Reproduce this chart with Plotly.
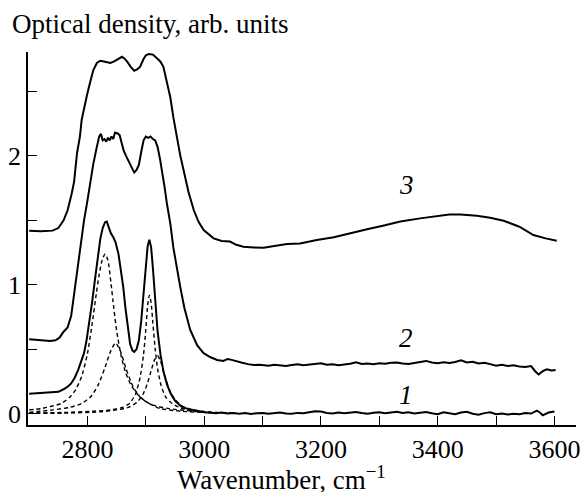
import plotly.graph_objects as go

# ---------------- data ----------------
# Curve 1 (solid, with two sharp peaks)
x1 = [2700, 2715, 2730, 2740, 2750, 2759, 2766, 2772, 2778, 2784, 2789, 2794, 2798, 2803, 2808, 2813,
      2818, 2822, 2826, 2830, 2833, 2836, 2840, 2844, 2848, 2853, 2857, 2861, 2865, 2869, 2873, 2877,
      2880, 2884, 2888, 2892, 2896, 2900, 2903, 2906, 2909, 2912, 2916, 2920, 2925, 2930, 2936, 2942,
      2950, 2960, 2970, 2982, 2990,
      3000, 3010, 3020, 3030, 3040, 3050, 3060, 3070, 3080, 3090, 3100, 3110, 3120, 3130, 3140, 3150,
      3160, 3170, 3180, 3190, 3200, 3210, 3220, 3230, 3240, 3250, 3260, 3270, 3280, 3290, 3300, 3310,
      3320, 3330, 3340, 3350, 3360, 3370, 3380, 3390, 3400, 3410, 3420, 3430, 3440, 3450, 3460, 3470,
      3480, 3490, 3500, 3510, 3520, 3530, 3540, 3550, 3560, 3570, 3575, 3580, 3590, 3600]
y1 = [0.155, 0.158, 0.163, 0.166, 0.170, 0.190, 0.210, 0.235, 0.280, 0.340, 0.400, 0.470, 0.560, 0.700, 0.870, 1.050,
      1.240, 1.360, 1.440, 1.485, 1.490, 1.455, 1.400, 1.370, 1.330, 1.240, 1.120, 0.990, 0.820, 0.660, 0.540, 0.490,
      0.480, 0.500, 0.570, 0.720, 0.920, 1.140, 1.300, 1.350, 1.290, 1.130, 0.880, 0.640, 0.460, 0.330, 0.230, 0.160,
      0.100, 0.060, 0.040, 0.028, 0.018,
      0.012, 0.008, 0.004, 0.009, 0.002, 0.006, 0.000, 0.005, -0.002, 0.004, 0.006, 0.001, 0.008, 0.010, 0.003, 0.000,
      0.007, 0.004, 0.012, 0.020, 0.018, 0.006, 0.002, 0.010, 0.004, 0.009, 0.013, 0.006, 0.000, 0.008, 0.012, 0.005,
      0.010, 0.015, 0.006, 0.011, 0.003, 0.009, 0.014, 0.004, -0.004, 0.012, 0.006, -0.003, 0.010, 0.016, 0.000, -0.008,
      0.005, 0.011, -0.004, 0.002, -0.006, 0.000, -0.004, 0.006, 0.002, 0.025, 0.010, -0.012, 0.010, 0.018]

# Curve 2 (solid, middle)
x2 = [2700, 2720, 2736, 2745, 2752, 2759, 2766, 2772, 2777, 2782, 2788, 2794, 2799, 2805, 2810, 2816,
      2820, 2823, 2826, 2829, 2832, 2835, 2838, 2841, 2844, 2847, 2851, 2855, 2858, 2862, 2867, 2872,
      2876, 2880, 2884, 2888, 2892, 2896, 2900, 2904, 2908, 2912, 2916, 2920, 2924, 2928, 2932, 2936,
      2942, 2947, 2953, 2959, 2966, 2976, 2988, 2999, 3010, 3022, 3033, 3040, 3047, 3055, 3065, 3075,
      3085, 3095,
      3100, 3110, 3120, 3130, 3140, 3150, 3160, 3170, 3180, 3190, 3200, 3210, 3220, 3230, 3240, 3250,
      3260, 3270, 3280, 3290, 3300, 3310, 3320, 3330, 3340, 3350, 3360, 3370, 3380, 3390, 3400, 3410,
      3420, 3430, 3440, 3450, 3460, 3470, 3480, 3490, 3500, 3510, 3520, 3530, 3540, 3550, 3560, 3567,
      3573, 3580, 3587, 3595, 3602]
y2 = [0.577, 0.570, 0.565, 0.570, 0.590, 0.636, 0.670, 0.760, 0.930, 1.120, 1.330, 1.500, 1.630, 1.800, 1.940, 2.070,
      2.150, 2.170, 2.120, 2.130, 2.110, 2.140, 2.120, 2.150, 2.130, 2.180, 2.175, 2.160, 2.100, 2.040, 1.990, 1.940,
      1.900, 1.870, 1.890, 1.930, 2.030, 2.120, 2.150, 2.140, 2.150, 2.130, 2.120, 2.070, 1.980, 1.880, 1.760, 1.630,
      1.470, 1.290, 1.130, 0.980, 0.820, 0.650, 0.530, 0.470, 0.440, 0.417, 0.410, 0.425, 0.418, 0.405, 0.395, 0.385,
      0.378, 0.380,
      0.378, 0.372, 0.380, 0.376, 0.370, 0.378, 0.383, 0.376, 0.382, 0.386, 0.392, 0.380, 0.384, 0.377, 0.381, 0.388,
      0.400, 0.386, 0.390, 0.384, 0.392, 0.388, 0.395, 0.398, 0.390, 0.386, 0.394, 0.400, 0.410, 0.398, 0.392, 0.400,
      0.394, 0.402, 0.415, 0.398, 0.404, 0.390, 0.396, 0.385, 0.372, 0.380, 0.370, 0.376, 0.366, 0.362, 0.370, 0.330,
      0.305, 0.330, 0.345, 0.335, 0.340]

# Curve 3 (solid, top)
x3 = [2700, 2720, 2740, 2750, 2759, 2766, 2773, 2777, 2782, 2787, 2790, 2795, 2799, 2805, 2810, 2816,
      2822, 2830, 2839, 2845, 2852, 2859, 2864, 2868, 2874, 2880, 2885, 2890, 2896, 2900, 2905, 2912,
      2919, 2925, 2930, 2936, 2942, 2947, 2953, 2959, 2965, 2973, 2982, 2990, 2999, 3008, 3016, 3030,
      3044, 3055, 3067, 3085, 3102, 3120, 3142, 3164, 3193, 3222, 3250, 3279, 3308, 3336, 3370, 3404,
      3420, 3439, 3455, 3467, 3490, 3513, 3540, 3564, 3585, 3604]
y3 = [1.420, 1.415, 1.420, 1.440, 1.500, 1.580, 1.710, 1.800, 2.020, 2.150, 2.280, 2.400, 2.470, 2.580, 2.665, 2.720,
      2.737, 2.730, 2.720, 2.730, 2.750, 2.768, 2.750, 2.730, 2.690, 2.660, 2.670, 2.690, 2.750, 2.780, 2.790, 2.785,
      2.756, 2.730, 2.690, 2.580, 2.450, 2.300, 2.140, 2.000, 1.880, 1.720, 1.580, 1.490, 1.425, 1.390, 1.360, 1.340,
      1.335, 1.310, 1.295, 1.290, 1.288, 1.300, 1.316, 1.320, 1.347, 1.368, 1.400, 1.430, 1.460, 1.490, 1.515, 1.536,
      1.545, 1.546, 1.542, 1.536, 1.520, 1.497, 1.450, 1.386, 1.360, 1.342]

# Dashed component bands
xA = [2700, 2720, 2740, 2755, 2770, 2780, 2790, 2800, 2808, 2815, 2820, 2825, 2830, 2835, 2840, 2845,
      2850, 2858, 2866, 2876, 2890, 2910, 2940, 2980, 3010]
yA = [0.030, 0.040, 0.060, 0.080, 0.130, 0.190, 0.290, 0.470, 0.700, 0.930, 1.080, 1.190, 1.240, 1.190, 1.020, 0.820,
      0.640, 0.440, 0.310, 0.210, 0.130, 0.070, 0.040, 0.020, 0.010]

xC = [2700, 2740, 2770, 2790, 2805, 2818, 2830, 2840, 2848, 2856, 2866, 2878, 2890, 2905, 2925, 2960, 3000]
yC = [0.010, 0.030, 0.050, 0.080, 0.130, 0.220, 0.360, 0.490, 0.550, 0.490, 0.350, 0.210, 0.130, 0.080, 0.040, 0.020, 0.010]

xB = [2700, 2760, 2810, 2840, 2860, 2872, 2882, 2890, 2896, 2900, 2903, 2906, 2909, 2912, 2916, 2920,
      2926, 2934, 2945, 2960, 2980, 3010, 3050]
yB = [0.005, 0.010, 0.020, 0.030, 0.050, 0.080, 0.150, 0.280, 0.460, 0.660, 0.840, 0.920, 0.860, 0.700, 0.500, 0.350,
      0.220, 0.130, 0.080, 0.045, 0.025, 0.012, 0.005]

xD = [2700, 2760, 2820, 2850, 2870, 2885, 2895, 2903, 2910, 2915, 2920, 2925, 2932, 2940, 2950, 2962,
      2980, 3010, 3050]
yD = [0.003, 0.005, 0.015, 0.030, 0.050, 0.090, 0.150, 0.240, 0.350, 0.420, 0.450, 0.410, 0.300, 0.190, 0.110, 0.060,
      0.030, 0.012, 0.005]

x_ticks = [2800, 2900, 3000, 3100, 3200, 3300, 3400, 3500, 3600]
x_ticktext = ["2800", "", "3000", "", "3200", "", "3400", "", "3600"]
y_ticks = [0, 0.5, 1, 1.5, 2, 2.5]
y_ticktext = ["0", "", "1", "", "2", ""]

curve_labels = ["1", "2", "3"]
label_x = [3346, 3346, 3346]
label_y = [0.146, 0.585, 1.772]

# ---------------- figure ----------------
FONT = "Liberation Serif, Times New Roman, serif"
fig = go.Figure()

for xs, ys in [(xA, yA), (xC, yC), (xB, yB), (xD, yD)]:
    fig.add_trace(go.Scatter(x=xs, y=ys, mode="lines",
                             line=dict(color="black", width=1.4, dash="4px,3px", shape="spline", smoothing=0.6),
                             showlegend=False, hoverinfo="skip"))

for xs, ys in [(x1, y1), (x2, y2), (x3, y3)]:
    fig.add_trace(go.Scatter(x=xs, y=ys, mode="lines",
                             line=dict(color="black", width=2),
                             showlegend=False, hoverinfo="skip"))

for t, lx, ly in zip(curve_labels, label_x, label_y):
    fig.add_annotation(x=lx, y=ly, text="<i>" + t + "</i>", showarrow=False,
                       font=dict(family=FONT, size=27, color="black"),
                       xanchor="center", yanchor="middle")

fig.add_annotation(xref="paper", yref="paper", x=-0.0328, y=1.075,
                   text="Optical density, arb. units", showarrow=False,
                   font=dict(family=FONT, size=27, color="black"),
                   xanchor="left", yanchor="middle")

fig.add_annotation(xref="paper", yref="paper", x=0.4626, y=-0.142,
                   text="Wavenumber, cm<sup>−1</sup>", showarrow=False,
                   font=dict(family=FONT, size=27, color="black"),
                   xanchor="center", yanchor="middle")

fig.update_layout(
    width=582, height=492,
    margin=dict(l=28, r=6, t=52, b=67, autoexpand=False),
    paper_bgcolor="white", plot_bgcolor="white",
    font=dict(family=FONT, size=26, color="black"),
    showlegend=False,
)
fig.update_xaxes(range=[2698, 3637], tickmode="array", tickvals=x_ticks, ticktext=x_ticktext,
                 ticks="inside", ticklen=9, tickwidth=1.3, tickcolor="black",
                 showline=True, linewidth=1.6, linecolor="black", mirror=False,
                 showgrid=False, zeroline=False, automargin=False,
                 tickfont=dict(family=FONT, size=26, color="black"))
fig.update_yaxes(range=[-0.087, 2.805], tickmode="array", tickvals=y_ticks, ticktext=y_ticktext,
                 ticks="inside", ticklen=9, tickwidth=1.3, tickcolor="black",
                 showline=True, linewidth=1.6, linecolor="black", mirror=False,
                 showgrid=False, zeroline=False, automargin=False,
                 tickfont=dict(family=FONT, size=26, color="black"))

fig.write_html("out.html", config={"displayModeBar": False},
               post_script="document.body.style.margin='0';document.body.style.overflow='hidden';")
